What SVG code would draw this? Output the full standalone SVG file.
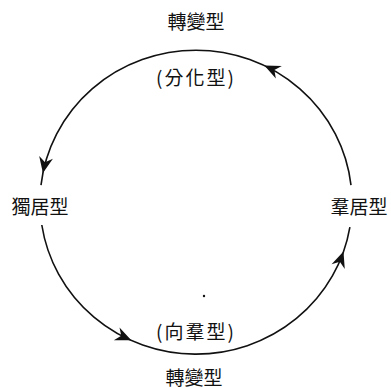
<svg xmlns="http://www.w3.org/2000/svg" width="391" height="388" viewBox="0 0 391 388">
<style>
.lbl{font-family:"Noto Sans CJK TC","Noto Sans CJK SC",sans-serif;font-size:19px;fill:#111;text-anchor:middle;dominant-baseline:central}
.arc{fill:none;stroke:#111;stroke-width:1.6}
.ah{fill:#111}
</style>
<defs>
<path id="head" d="M0,0 L-16,-7 L-11,0 L-16,7 Z"/>
</defs>
<rect width="391" height="388" fill="#fff"/>
<g id="connectors">
<path class="arc" d="M351,185.1 A156,152 0 0 0 41,185.1"/>
<path class="arc" d="M41.8,225 A156,152 0 0 0 349.9,227.1"/>
<use href="#head" class="ah" transform="translate(264.4,65.4) rotate(205.4)"/>
<use href="#head" class="ah" transform="translate(42.9,173) rotate(101.3)"/>
<use href="#head" class="ah" transform="translate(131.3,340.3) rotate(23.9)"/>
<use href="#head" class="ah" transform="translate(343.5,251.5) rotate(-70.5)"/>
</g>
<g id="node-top">
<text class="lbl" x="196" y="20">轉變型</text>
<text class="lbl" x="196" y="76" letter-spacing="2">(分化型)</text>
</g>
<g id="node-left">
<text class="lbl" x="40" y="205" font-size="20">獨居型</text>
</g>
<g id="node-right">
<text class="lbl" x="359" y="205" font-size="20">羣居型</text>
</g>
<g id="node-bottom">
<text class="lbl" x="196" y="330" letter-spacing="2">(向羣型)</text>
<text class="lbl" x="194" y="376">轉變型</text>
</g>
<circle cx="204" cy="296" r="1.2" fill="#111"/>
</svg>
